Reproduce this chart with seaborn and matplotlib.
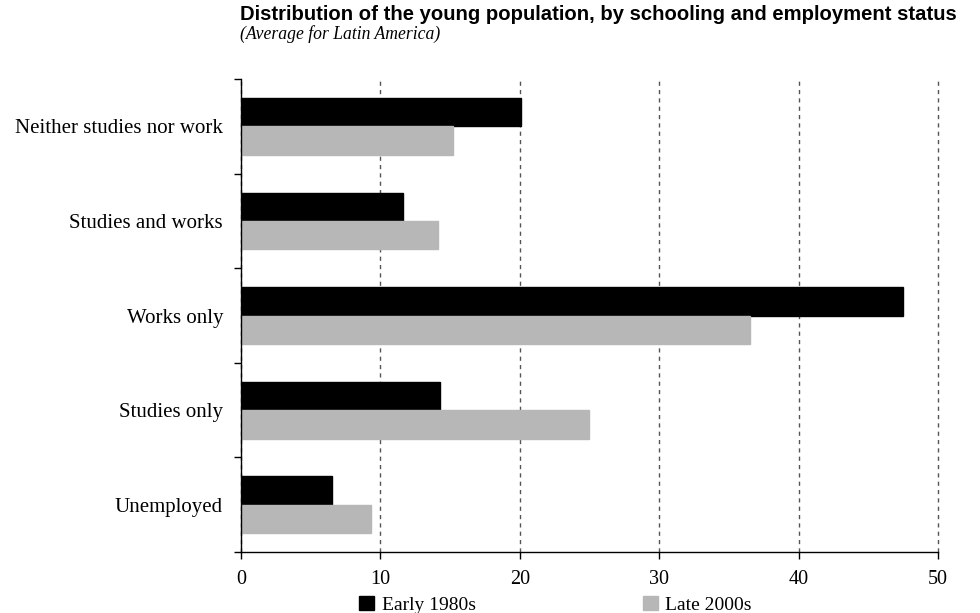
import matplotlib
matplotlib.use("Agg")
import matplotlib.pyplot as plt
from matplotlib.patches import Patch
import seaborn as sns
import pandas as pd

# Datos (porcentaje de jóvenes)
categorias = ["Neither studies nor work", "Studies and works", "Works only",
              "Studies only", "Unemployed"]
periodos = ["Early 1980s", "Late 2000s"]
early_1980s = [20.1, 11.6, 47.5, 14.3, 6.5]
late_2000s = [15.2, 14.1, 36.5, 25.0, 9.3]
xticks = [0, 10, 20, 30, 40, 50]

df = pd.DataFrame({
    "categoria": categorias * 2,
    "periodo": [periodos[0]] * 5 + [periodos[1]] * 5,
    "valor": early_1980s + late_2000s,
})

sns.set_theme(style="white")
plt.rcParams["font.family"] = ["Liberation Serif", "DejaVu Serif"]
plt.rcParams["text.color"] = "black"
plt.rcParams["xtick.color"] = "black"
plt.rcParams["ytick.color"] = "black"

fig = plt.figure(figsize=(9.8, 6.13), dpi=100)
ax = fig.add_axes([0.246, 0.0995, 0.711, 0.7715])

colores = {"Early 1980s": "#000000", "Late 2000s": "#b7b7b7"}
sns.barplot(data=df, y="categoria", x="valor", hue="periodo", order=categorias,
            hue_order=periodos, palette=colores, width=0.6, orient="h",
            saturation=1, legend=False, ax=ax)
for p in ax.patches:
    p.set_edgecolor(p.get_facecolor())

ax.set_xlim(0, 50)
ax.set_ylim(4.5, -0.5)
ax.set_xticks(xticks)
ax.set_xticklabels([str(t) for t in xticks], fontsize=14.5)
ax.set_yticks(range(len(categorias)))
ax.set_yticklabels(categorias, fontsize=15)
ax.tick_params(axis="y", which="major", left=True, length=0, pad=13)
ax.set_yticks([i - 0.5 for i in range(len(categorias) + 1)], minor=True)
ax.tick_params(axis="y", which="minor", left=True, length=5, width=1, direction="out")
ax.tick_params(axis="x", bottom=True, length=5, width=1, direction="out", pad=8)
ax.set_xlabel("")
ax.set_ylabel("")

ax.xaxis.grid(True, linestyle=(0, (3, 3)), color="#555555", linewidth=1)
for linea in ax.get_xgridlines():
    linea.set_clip_on(False)
ax.set_axisbelow(True)
for lado in ["top", "right"]:
    ax.spines[lado].set_visible(False)
for lado in ["left", "bottom"]:
    ax.spines[lado].set_color("black")
    ax.spines[lado].set_linewidth(1)

fig.text(0.245, 0.977, "Distribution of the young population, by schooling and employment status",
         fontsize=14.6, fontweight="bold", family=["Liberation Sans", "DejaVu Sans"], va="center")
fig.text(0.245, 0.944, "(Average for Latin America)", fontsize=12.7, style="italic", va="center")

handles = [Patch(facecolor=colores[p], edgecolor=colores[p], label=p) for p in periodos]
fig.legend(handles=handles, loc="lower center", bbox_to_anchor=(0.567, -0.03), ncol=2,
           frameon=False, fontsize=14, handlelength=0.75, handleheight=0.75,
           handletextpad=0.4, columnspacing=8.6)

fig.savefig("out.png", dpi=100)
